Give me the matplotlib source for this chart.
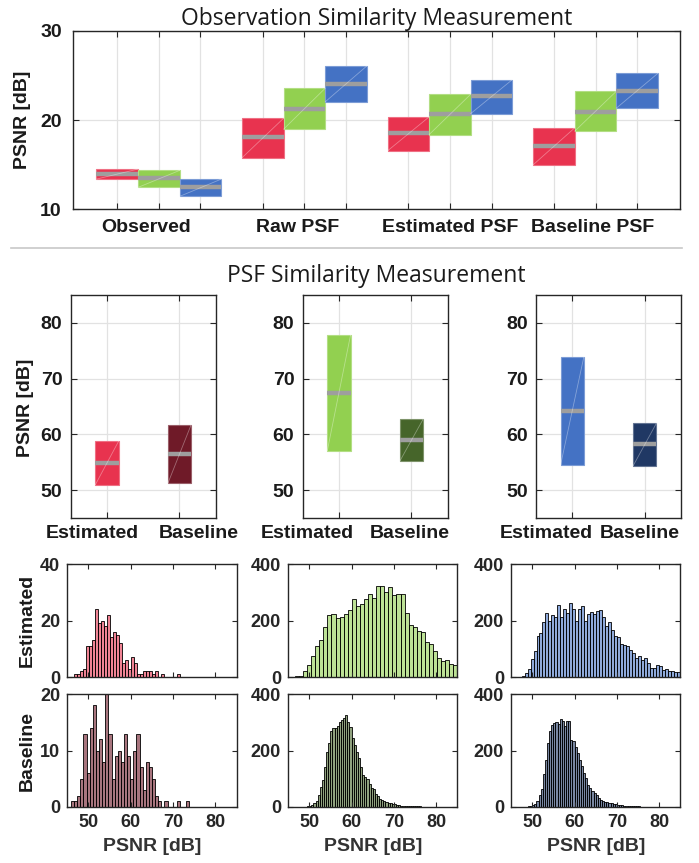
import numpy as np
import matplotlib
matplotlib.use('Agg')
import matplotlib.pyplot as plt
from matplotlib.lines import Line2D
from matplotlib.colors import to_rgba
from matplotlib.transforms import ScaledTranslation

plt.rcParams['font.family'] = ['Liberation Sans', 'DejaVu Sans']

# ---------------- Top chart data ----------------
groups = ['Observed', 'Raw PSF', 'Estimated PSF', 'Baseline PSF']
top_q1_red = [13.36, 15.76, 16.54, 14.97]
top_med_red = [13.93, 18.04, 18.49, 17.10]
top_q3_red = [14.49, 20.20, 20.36, 19.12]
top_q1_green = [12.43, 18.97, 18.37, 18.75]
top_med_green = [13.44, 21.20, 20.65, 20.95]
top_q3_green = [14.34, 23.57, 22.90, 23.23]
top_q1_blue = [11.42, 22.04, 20.73, 21.33]
top_med_blue = [12.43, 24.10, 22.64, 23.31]
top_q3_blue = [13.36, 26.07, 24.54, 25.25]

# ---------------- PSF similarity data ----------------
psf_methods = ['Estimated', 'Baseline']
psf_q1_red = [50.96, 51.20]
psf_med_red = [54.90, 56.47]
psf_q3_red = [58.74, 61.68]
psf_q1_green = [57.07, 55.20]
psf_med_green = [67.50, 59.00]
psf_q3_green = [77.80, 62.70]
psf_q1_blue = [54.55, 54.37]
psf_med_blue = [64.20, 58.20]
psf_q3_blue = [73.90, 61.98]

# ---------------- Histogram data ----------------
red_est_start, red_est_width = 46.56, 0.714
red_est_counts = [1, 1, 2, 3, 11, 11, 13, 24, 19, 20, 18, 22, 14, 16, 15, 12, 5, 6, 3, 7,
                  5, 1, 1, 2, 2, 2, 1, 2, 0, 1, 0, 0, 0, 0, 1]
red_base_start, red_base_width = 45.94, 0.735
red_base_counts = [1, 1, 2, 5, 13, 6, 14, 18, 10, 12, 8, 20, 13, 5, 9, 10, 8, 13, 9, 5,
                   10, 13, 7, 3, 8, 7, 5, 2, 1, 0, 1, 0, 0, 0, 1, 0, 0, 1]
red_edge_count = 5  # bin just below 45 dB (clipped at the axis edge)

green_est_start, green_est_width = 46.63, 0.959
green_est_counts = [2, 3, 21, 44, 75, 109, 131, 176, 221, 224, 208, 211, 224, 236, 278, 251,
                    259, 278, 294, 281, 321, 321, 300, 317, 290, 295, 294, 228, 185, 178, 164,
                    161, 125, 116, 93, 68, 57, 62, 45, 42]
green_base_start, green_base_width = 48.0, 0.5
green_base_counts = [0, 0, 1, 2, 4, 7, 13, 22, 42, 70, 96, 140, 193, 225, 270, 278, 280, 288,
                     300, 307, 315, 325, 300, 285, 245, 218, 195, 172, 140, 112, 105, 100, 80,
                     67, 63, 45, 38, 30, 26, 21, 18, 15, 14, 12, 9, 8, 7, 5, 5, 4, 3, 2, 2, 2,
                     2, 2, 2, 1, 1, 1, 1, 1, 1, 1, 1, 1, 1, 1, 1, 1, 1, 1, 1, 1]
blue_est_start, blue_est_width = 47.49, 0.707
blue_est_counts = [4, 16, 27, 63, 92, 144, 156, 194, 228, 199, 218, 211, 254, 211, 242, 228,
                   263, 242, 199, 240, 251, 199, 224, 230, 223, 233, 236, 211, 182, 194, 168,
                   146, 143, 116, 115, 111, 97, 85, 69, 73, 61, 66, 51, 31, 31, 43, 39, 24,
                   27, 20, 20, 18, 18]
blue_base_start, blue_base_width = 47.0, 0.5
blue_base_counts = [0, 1, 1, 1, 2, 4, 7, 12, 22, 42, 65, 118, 165, 225, 270, 292, 298, 302,
                    295, 313, 305, 288, 305, 305, 237, 232, 212, 192, 168, 145, 122, 102, 78,
                    66, 58, 51, 41, 33, 26, 22, 19, 17, 15, 14, 11, 9, 8, 7, 6, 5, 4, 3, 3, 2,
                    2, 2, 2, 1, 1, 1, 1, 1, 1, 1, 1, 1, 1, 1, 1, 1, 1, 1, 1, 1, 1, 1]

# ---------------- Colors ----------------
c_red = '#E8334F'
c_green = '#92D050'
c_blue = '#4472C4'
c_dred = '#6F1A28'
c_dgreen = '#46652A'
c_navy = '#203864'
c_median = '#9E9E9E'
c_grid = '#E2E2E2'
c_text = '#1A1A1A'

fig = plt.figure(figsize=(6.99, 8.63), dpi=100)


def lighten(c, f=0.35):
    r, g, b, _ = to_rgba(c)
    return (r + (1 - r) * f, g + (1 - g) * f, b + (1 - b) * f)


def draw_box(ax, x, q1, med, q3, w, color):
    ax.bar(x, q3 - q1, bottom=q1, width=w, color=color, edgecolor=lighten(color, 0.3),
           linewidth=0.8, zorder=2)
    ax.hlines(med, x - w / 2, x + w / 2, color=c_median, linewidth=3.2, zorder=3)
    ax.plot([x - w / 2, x + w / 2], [q1, q3], color='white', alpha=0.35, lw=0.6, zorder=3)


def style_axes(ax):
    for s in ax.spines.values():
        s.set_color('#262626')
        s.set_linewidth(1.0)
    ax.tick_params(direction='in', length=4, width=0.8, top=True, right=True,
                   colors='#262626', labelcolor=c_text)
    ax.grid(True, color=c_grid, linewidth=0.9)
    ax.set_axisbelow(True)


def shift_label(label, dx_px):
    label.set_transform(label.get_transform() + ScaledTranslation(dx_px / 100.0, 0, fig.dpi_scale_trans))


# ---------------- Top chart ----------------
ax0 = fig.add_axes([0.1044, 0.7578, 0.8684, 0.2063])
w_top = 0.2857
offs = [-w_top, 0.0, w_top]
series = [(top_q1_red, top_med_red, top_q3_red, c_red),
          (top_q1_green, top_med_green, top_q3_green, c_green),
          (top_q1_blue, top_med_blue, top_q3_blue, c_blue)]
xt, xl = [], []
for gi, g in enumerate(groups):
    for si, (q1, md, q3, col) in enumerate(series):
        x = gi + 1 + offs[si]
        draw_box(ax0, x, q1[gi], md[gi], q3[gi], w_top, col)
        xt.append(x)
        xl.append(g if si == 1 else '')
ax0.set_xlim(0.41, 4.58)
ax0.set_ylim(10, 30)
ax0.set_yticks([10, 20, 30])
ax0.set_xticks(xt)
ax0.set_xticklabels(xl, fontsize=14, fontweight='bold')
style_axes(ax0)
ax0.tick_params(axis='x', pad=7)
ax0.tick_params(axis='y', pad=8, labelsize=14)
for t in ax0.get_yticklabels():
    t.set_fontweight('bold')
top_label_dx = [-13, -7, 0, -3]
labs = ax0.get_xticklabels()
for gi in range(len(groups)):
    shift_label(labs[gi * 3 + 1], top_label_dx[gi])
ax0.set_title('Observation Similarity Measurement', fontsize=16.5, family=['Open Sans', 'DejaVu Sans'],
              pad=4, color=c_text)
fig.text(0.032, 0.861, 'PSNR [dB]', rotation=90, ha='center', va='center', fontsize=14,
         fontweight='bold', color=c_text)

# separator
fig.add_artist(Line2D([0.016, 0.975], [0.7126, 0.7126], color='#C8C8C8', lw=1.2,
                      transform=fig.transFigure))

# ---------------- PSF similarity panels ----------------
fig.text(0.538, 0.680, 'PSF Similarity Measurement', ha='center', va='center', fontsize=16.5,
         family=['Open Sans', 'DejaVu Sans'], color=c_text)
mid_left = [0.1011, 0.4330, 0.7668]
mid_label_dx = [(-15, 19), (-32, -2), (-26, -5)]
psf_series = [((psf_q1_red, psf_med_red, psf_q3_red), (c_red, c_dred)),
              ((psf_q1_green, psf_med_green, psf_q3_green), (c_green, c_dgreen)),
              ((psf_q1_blue, psf_med_blue, psf_q3_blue), (c_blue, c_navy))]
for pi, ((q1, md, q3), cols) in enumerate(psf_series):
    ax = fig.add_axes([mid_left[pi], 0.3998, 0.2075, 0.2584])
    for mi in range(2):
        draw_box(ax, mi + 1, q1[mi], md[mi], q3[mi], 0.32, cols[mi])
    ax.set_xlim(0.5, 2.5)
    ax.set_ylim(45, 85)
    ax.set_yticks([50, 60, 70, 80])
    ax.set_xticks([1, 2])
    ax.set_xticklabels(psf_methods, fontsize=14, fontweight='bold')
    style_axes(ax)
    ax.tick_params(axis='x', pad=5)
    ax.tick_params(axis='y', pad=6, labelsize=14)
    for t in ax.get_yticklabels():
        t.set_fontweight('bold')
    for li, lab in enumerate(ax.get_xticklabels()):
        shift_label(lab, mid_label_dx[pi][li])
fig.text(0.036, 0.528, 'PSNR [dB]', rotation=90, ha='center', va='center', fontsize=14,
         fontweight='bold', color=c_text)

# ---------------- Histograms ----------------
hist_left = [0.0959, 0.4120, 0.7310]
hist_bottom = [0.2155, 0.0649]
hist_specs = [
    [(red_est_start, red_est_width, red_est_counts, c_red, (0, 40), [0, 20, 40]),
     (green_est_start, green_est_width, green_est_counts, c_green, (0, 400), [0, 200, 400]),
     (blue_est_start, blue_est_width, blue_est_counts, c_blue, (0, 400), [0, 200, 400])],
    [(red_base_start, red_base_width, red_base_counts, c_dred, (0, 20), [0, 10, 20]),
     (green_base_start, green_base_width, green_base_counts, c_dgreen, (0, 400), [0, 200, 400]),
     (blue_base_start, blue_base_width, blue_base_counts, c_navy, (0, 400), [0, 200, 400])],
]
for ri in range(2):
    for ci in range(3):
        start, width, counts, col, ylim, yt = hist_specs[ri][ci]
        ax = fig.add_axes([hist_left[ci], hist_bottom[ri], 0.2425, 0.1309])
        edges = start + width * np.arange(len(counts))
        ax.bar(edges, counts, width=width, align='edge', facecolor=to_rgba(col, 0.6),
               edgecolor='black', linewidth=0.6)
        if ci == 0:
            ax.bar([45.0 - width], [red_edge_count], width=width, align='edge',
                   facecolor=to_rgba(col, 0.6), edgecolor='black', linewidth=1.2)
        ax.set_xlim(45, 85)
        ax.set_ylim(*ylim)
        ax.set_yticks(yt)
        ax.set_xticks([50, 60, 70, 80])
        for s in ax.spines.values():
            s.set_color('#262626')
            s.set_linewidth(1.0)
        ax.tick_params(direction='in', length=3.5, width=0.8, top=True, right=True,
                       colors='#262626', labelsize=13, pad=5)
        for t in ax.get_yticklabels() + ax.get_xticklabels():
            t.set_fontweight('bold')
            t.set_color('#262626')
        if ri == 0:
            ax.set_xticklabels([])
        else:
            ax.set_xlabel('PSNR [dB]', fontsize=14, fontweight='bold', color='#333333', labelpad=5)

fig.text(0.039, 0.281, 'Estimated', rotation=90, ha='center', va='center', fontsize=14,
         fontweight='bold', color=c_text)
fig.text(0.039, 0.130, 'Baseline', rotation=90, ha='center', va='center', fontsize=14,
         fontweight='bold', color=c_text)

fig.savefig('out.png', dpi=100)
